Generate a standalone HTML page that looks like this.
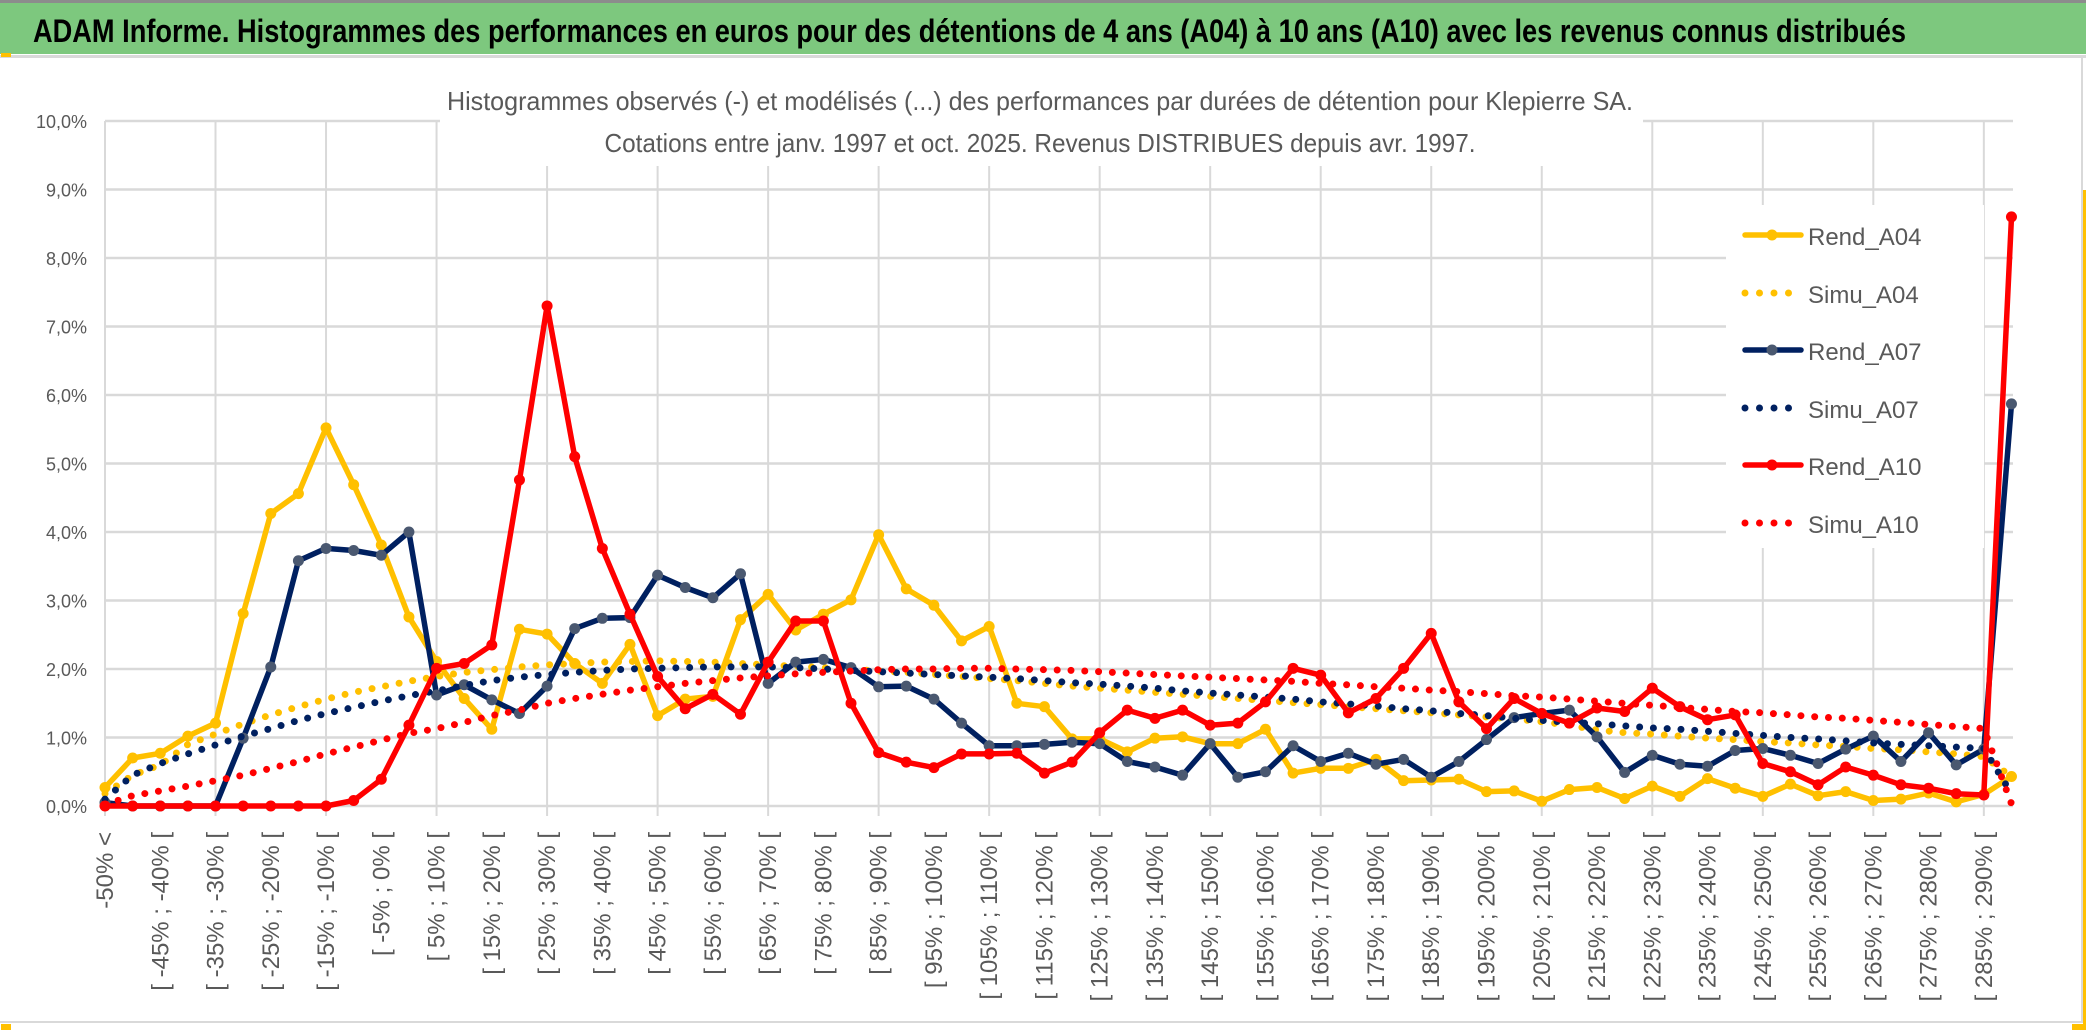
<!DOCTYPE html>
<html><head><meta charset="utf-8"><style>
html,body{margin:0;padding:0;background:#fff;}
svg{display:block;font-family:"Liberation Sans",sans-serif;}
</style></head><body>
<svg id="chart" width="2086" height="1033" viewBox="0 0 2086 1033" xmlns="http://www.w3.org/2000/svg">
<rect x="0" y="0" width="2086" height="1033" fill="#fff"/>
<rect x="0" y="0" width="2086" height="3" fill="#8c8c8c"/>
<rect x="0" y="3" width="2086" height="51" fill="#7dc87e"/>
<text x="33" y="42" font-size="32" font-weight="bold" fill="#000" textLength="1873" lengthAdjust="spacingAndGlyphs">ADAM Informe. Histogrammes des performances en euros pour des détentions de 4 ans (A04) à 10 ans (A10) avec les revenus connus distribués</text>
<rect x="0" y="55" width="2086" height="3" fill="#d9d9d9"/>
<rect x="0" y="1021" width="2086" height="2" fill="#d9d9d9"/>
<rect x="2081" y="58" width="2" height="964" fill="#d9d9d9"/>
<rect x="1" y="53" width="10" height="4" fill="#ffc000"/>
<rect x="1" y="1024" width="10" height="6" fill="#ffc000"/>
<rect x="2072" y="1024" width="12" height="6" fill="#ffc000"/>
<rect x="2083" y="190" width="3" height="840" fill="#ffc000"/>
<g id="grid"></g>
<rect x="440" y="70" width="1203" height="96" fill="#fff"/>
<text x="1040" y="110" font-size="26" fill="#595959" text-anchor="middle" textLength="1186" lengthAdjust="spacingAndGlyphs">Histogrammes observés (-) et modélisés (...) des performances par durées de détention pour Klepierre SA.</text>
<text x="1040" y="152" font-size="26" fill="#595959" text-anchor="middle" textLength="871" lengthAdjust="spacingAndGlyphs">Cotations entre janv. 1997 et oct. 2025. Revenus DISTRIBUES depuis avr. 1997.</text>
<g id="yaxis"></g>
<g id="xaxis"></g>
<rect x="1726" y="205" width="258" height="343" fill="#fff"/>
<g id="series"></g>
<g id="legend"></g>
</svg>
<script>
const categories = ["-50% <"];
for (let k = 1; k < 70; k++) { categories.push("[ " + (-55 + 5 * k) + "% ; " + (-50 + 5 * k) + "% ["); }
const yTicks = [0,1,2,3,4,5,6,7,8,9,10];
const yTickLabels = ["0,0%","1,0%","2,0%","3,0%","4,0%","5,0%","6,0%","7,0%","8,0%","9,0%","10,0%"];
const rendA04 = [0.27,0.70,0.77,1.02,1.21,2.81,4.27,4.56,5.52,4.69,3.81,2.76,2.11,1.57,1.12,2.58,2.51,2.08,1.79,
2.36,1.32,1.56,1.60,2.72,3.09,2.57,2.80,3.01,3.96,3.17,2.93,2.41,2.62,1.50,1.45,0.98,0.98,
0.79,0.99,1.01,0.91,0.91,1.12,0.48,0.55,0.55,0.68,0.37,0.38,0.39,0.21,0.22,0.07,0.24,0.27,
0.11,0.29,0.14,0.40,0.26,0.14,0.32,0.15,0.21,0.08,0.10,0.19,0.06,0.17,0.43];
const simuA04 = [0.18,0.45,0.6,0.9,1.05,1.2,1.33,1.45,1.56,1.66,1.74,1.82,1.89,1.95,1.99,2.03,2.06,2.08,2.1,2.11,2.12,2.11,2.1,2.08,2.06,2.04,2.02,2.0,1.97,1.95,1.92,1.89,1.86,1.83,1.79,1.75,1.72,1.69,1.66,1.63,1.6,1.57,1.54,1.51,1.48,1.45,1.42,1.39,1.36,1.33,1.3,1.27,1.23,1.18,1.11,1.07,1.05,1.02,0.99,0.97,0.94,0.92,0.89,0.87,0.84,0.82,0.79,0.76,0.72,0.43];
const rendA07 = [0.05,0,0,0,0,0.99,2.03,3.58,3.76,3.73,3.66,4.00,1.62,1.77,1.55,1.35,1.75,2.59,2.74,
2.75,3.37,3.19,3.04,3.39,1.79,2.10,2.14,2.02,1.74,1.75,1.56,1.21,0.88,0.88,0.90,0.93,0.91,
0.65,0.57,0.45,0.91,0.42,0.50,0.88,0.65,0.77,0.61,0.68,0.42,0.65,0.97,1.29,1.35,1.40,1.01,
0.49,0.74,0.61,0.58,0.81,0.84,0.74,0.62,0.83,1.02,0.65,1.07,0.60,0.83,5.87];
const simuA07 = [0.1,0.45,0.62,0.76,0.89,1.02,1.13,1.25,1.35,1.44,1.53,1.61,1.68,1.76,1.83,1.88,1.92,1.95,1.98,2.0,2.01,2.02,2.03,2.03,2.03,2.02,2.0,1.98,1.96,1.94,1.92,1.9,1.88,1.86,1.83,1.8,1.78,1.75,1.72,1.68,1.65,1.62,1.59,1.56,1.52,1.49,1.46,1.42,1.39,1.35,1.32,1.28,1.25,1.22,1.2,1.17,1.14,1.12,1.09,1.06,1.03,1.0,0.98,0.95,0.92,0.9,0.88,0.86,0.84,0.18];
const rendA10 = [0,0,0,0,0,0,0,0,0,0.08,0.39,1.18,2.01,2.08,2.35,4.76,7.30,5.10,3.76,
2.80,1.89,1.42,1.63,1.34,2.10,2.70,2.70,1.50,0.78,0.64,0.56,0.76,0.76,0.77,0.48,0.64,1.07,
1.40,1.28,1.40,1.18,1.21,1.52,2.01,1.91,1.36,1.57,2.01,2.52,1.52,1.13,1.57,1.35,1.21,1.43,
1.38,1.72,1.45,1.26,1.33,0.62,0.50,0.31,0.57,0.45,0.31,0.26,0.18,0.16,8.60];
const simuA10 = [0.02,0.15,0.22,0.29,0.37,0.45,0.55,0.65,0.76,0.86,0.96,1.06,1.13,1.22,1.32,1.4,1.5,1.57,1.63,1.69,1.74,1.79,1.83,1.87,1.9,1.93,1.95,1.97,1.99,2.0,2.0,2.01,2.01,2.0,1.99,1.98,1.96,1.94,1.92,1.9,1.88,1.86,1.84,1.82,1.79,1.77,1.74,1.72,1.69,1.67,1.64,1.61,1.59,1.56,1.53,1.5,1.47,1.44,1.41,1.38,1.36,1.33,1.3,1.28,1.25,1.22,1.19,1.16,1.13,0.03];
const seriesNames = ["Rend_A04","Simu_A04","Rend_A07","Simu_A07","Rend_A10","Simu_A10"];

const NS = "http://www.w3.org/2000/svg";
const X0 = 105, DX = 27.63, Y0 = 806, DY = 68.5, XR = 2013;
function xPos(i){ return X0 + i * DX; }
function yPos(v){ return Y0 - v * DY; }
function mk(tag, attrs, parent){ const e = document.createElementNS(NS, tag); for (const k in attrs) e.setAttribute(k, attrs[k]); parent.appendChild(e); return e; }

const grid = document.getElementById('grid');
yTicks.forEach(function(t){
  const l = mk('line', {x1:X0, x2:XR, y1:yPos(t), y2:yPos(t), stroke:'#d9d9d9', 'stroke-width':2.5}, grid);
  
  
});
for (let i = 0; i < categories.length; i += 4) {
  const l = mk('line', {x1:xPos(i), x2:xPos(i), y1:yPos(10), y2:Y0 + 10, stroke:'#d9d9d9', 'stroke-width':2}, grid);
  
  
}
const ya = document.getElementById('yaxis');
yTicks.forEach(function(t, k){
  const tx = mk('text', {x:87, y:yPos(t) + 7, 'font-size':18, fill:'#595959', 'text-anchor':'end'}, ya);
  tx.textContent = yTickLabels[k];
  
  
});
const xa = document.getElementById('xaxis');
categories.forEach(function(c, i){
  if (i % 2 !== 0) return;
  const tx = mk('text', {transform:'translate(' + (xPos(i) + 8) + ',832) rotate(-90)', 'font-size':24, fill:'#595959', 'text-anchor':'end'}, xa);
  tx.textContent = c;
  
  
});

const sg = document.getElementById('series');
function pts(arr){ return arr.map(function(v, i){ return xPos(i).toFixed(1) + ',' + yPos(v).toFixed(1); }).join(' '); }
function drawRend(arr, color, mcolor, name){
  const g = mk('g', {}, sg);
  
  
  const pl = mk('polyline', {points:pts(arr), fill:'none', stroke:color, 'stroke-width':5.5, 'stroke-linejoin':'round'}, g);
  
  
  arr.forEach(function(v, i){
    const c = mk('circle', {cx:xPos(i), cy:yPos(v), r:5.5, fill:mcolor}, g);
    
    
  });
}
function drawSimu(arr, color, name){
  const pl = mk('polyline', {points:pts(arr), fill:'none', stroke:color, 'stroke-width':7, 'stroke-linecap':'round', 'stroke-dasharray':'0 13.8'}, sg);
  
  
}
drawRend(rendA04, '#ffc000', '#ffc000', 'rend-a04');
drawSimu(simuA04, '#ffc000', 'simu-a04');
drawRend(rendA07, '#002060', '#4a5870', 'rend-a07');
drawSimu(simuA07, '#002060', 'simu-a07');
drawRend(rendA10, '#ff0000', '#ff0000', 'rend-a10');
drawSimu(simuA10, '#ff0000', 'simu-a10');

const lg = document.getElementById('legend');
const legColors = ['#ffc000','#ffc000','#002060','#002060','#ff0000','#ff0000'];
const legMarker = ['#ffc000',null,'#4a5870',null,'#ff0000',null];
const lgBase = [245,303,360,418,475,533];
seriesNames.forEach(function(n, k){
  const cy = lgBase[k] - 10;
  const g = mk('g', {}, lg);
  
  
  if (legMarker[k]) {
    mk('line', {x1:1745, x2:1801, y1:cy, y2:cy, stroke:legColors[k], 'stroke-width':5.5, 'stroke-linecap':'round'}, g);
    mk('circle', {cx:1772, cy:cy, r:5.5, fill:legMarker[k]}, g);
  } else {
    mk('line', {x1:1745, x2:(k === 5 ? 1801 : 1791), y1:cy, y2:cy, stroke:legColors[k], 'stroke-width':7, 'stroke-linecap':'round', 'stroke-dasharray':'0 14.5'}, g);
  }
  const tx = mk('text', {x:1808, y:lgBase[k], 'font-size':24, fill:'#595959'}, g);
  tx.textContent = n;
});
</script>
</body></html>
